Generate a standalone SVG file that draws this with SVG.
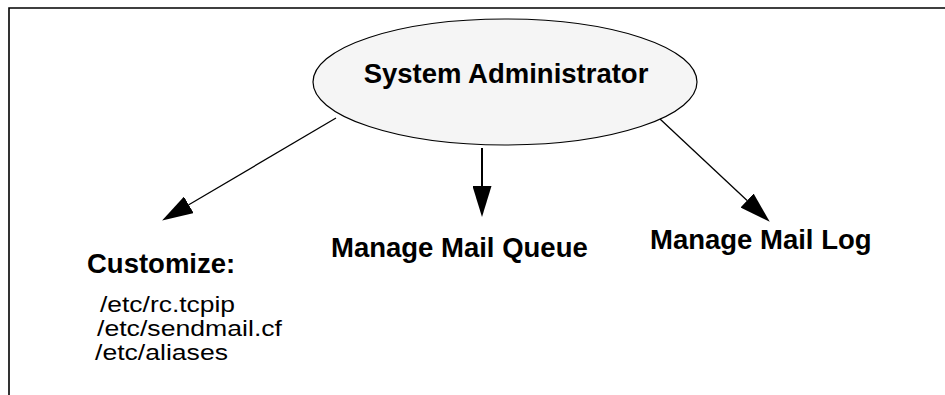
<svg xmlns="http://www.w3.org/2000/svg" width="945" height="395" viewBox="0 0 945 395">
  <style>
    .frame { stroke: #000; stroke-width: 1.6; fill: none; }
    .node-shape { fill: #f5f5f5; stroke: #000; stroke-width: 1.2; }
    .bold { font-family: "Liberation Sans", Arial, Helvetica, sans-serif; font-weight: bold; font-size: 27.5px; fill: #000; }
    .reg { font-family: "Liberation Sans", Arial, Helvetica, sans-serif; font-size: 22px; fill: #000; }
    .conn { stroke: #000; fill: none; }
  </style>
  <defs>
    <marker id="ah" markerUnits="userSpaceOnUse" markerWidth="31" markerHeight="19" viewBox="0 0 31 19" refX="0" refY="9.5" orient="auto">
      <path d="M0,0 L31,9.5 L0,19 Z" fill="#000"/>
    </marker>
  </defs>
  <rect width="945" height="395" fill="#fff"/>
  <path class="frame" d="M9,395 L9,8 L945,8"/>

  <g id="sysadmin">
    <ellipse class="node-shape" cx="505" cy="82" rx="192" ry="63"/>
    <text class="bold" x="506" y="83" text-anchor="middle">System Administrator</text>
  </g>

  <g id="customize">
    <text class="bold" x="87" y="273" font-size="26.5">Customize:</text>
    <text class="reg" x="100" y="312" textLength="135" lengthAdjust="spacingAndGlyphs">/etc/rc.tcpip</text>
    <text class="reg" x="97" y="336" textLength="185" lengthAdjust="spacingAndGlyphs">/etc/sendmail.cf</text>
    <text class="reg" x="95" y="360" textLength="133" lengthAdjust="spacingAndGlyphs">/etc/aliases</text>
  </g>

  <g id="queue">
    <text class="bold" x="331" y="257">Manage Mail Queue</text>
  </g>

  <g id="log">
    <text class="bold" x="650" y="249">Manage Mail Log</text>
  </g>

  <g id="connectors">
    <line class="conn" stroke-width="1.3" x1="336" y1="118" x2="188.8" y2="204.8" marker-end="url(#ah)"/>
    <line class="conn" stroke-width="2" x1="482" y1="148" x2="482" y2="186" marker-end="url(#ah)"/>
    <line class="conn" stroke-width="1.3" x1="660" y1="119" x2="747.1" y2="200.5" marker-end="url(#ah)"/>
  </g>
</svg>
